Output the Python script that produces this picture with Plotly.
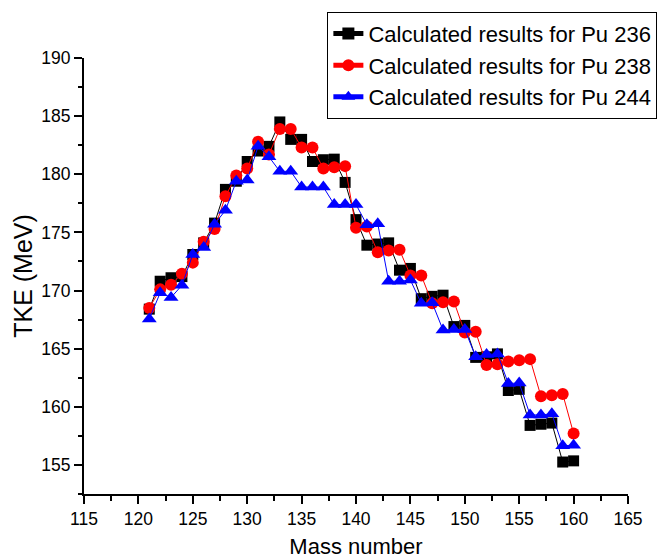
import plotly.graph_objects as go

# Mass numbers of the fission fragments
mass_number = list(range(121, 161))

# Total kinetic energy (MeV) for each plutonium isotope
tke_pu236 = [168.4, 170.8, 171.1, 171.2, 173.1, 174.1, 175.8, 178.7, 179.4, 181.1,
             182.0, 182.4, 184.5, 183.0, 183.0, 181.1, 181.25, 181.3, 179.3, 176.1,
             173.9, 174.0, 174.1, 171.75, 171.9, 169.3, 169.5, 169.6, 166.9, 167.0,
             164.25, 164.3, 164.55, 161.4, 161.5, 158.4, 158.5, 158.6, 155.25, 155.35]

tke_pu238 = [168.5, 170.1, 170.5, 171.45, 172.4, 174.2, 175.3, 178.1, 179.9, 180.5,
             182.8, 181.7, 183.9, 183.9, 182.3, 182.3, 180.5, 180.6, 180.7, 175.4,
             175.5, 173.3, 173.45, 173.5, 171.3, 171.3, 168.9, 169.0, 169.05, 166.4,
             166.45, 163.6, 163.65, 163.9, 164.0, 164.1, 160.9, 161.0, 161.1, 157.7]

tke_pu244 = [167.55, 169.8, 169.4, 170.45, 173.1, 173.7, 175.7, 176.9, 179.4, 179.5,
             182.4, 181.5, 180.25, 180.25, 178.9, 178.9, 178.9, 177.4, 177.4, 177.4,
             175.65, 175.75, 170.8, 170.8, 170.9, 168.9, 168.95, 166.6, 166.65, 166.65,
             164.3, 164.5, 164.55, 162.0, 162.05, 159.3, 159.3, 159.4, 156.65, 156.7]

series = [
    ("Calculated results for Pu 236", tke_pu236, "black", "square", 11),
    ("Calculated results for Pu 238", tke_pu238, "#ff0000", "circle", 12),
    ("Calculated results for Pu 244", tke_pu244, "#0000ff", "triangle-up", 13),
]

FONT = "Liberation Sans, Arial, sans-serif"

fig = go.Figure()
for name, values, color, symbol, size in series:
    fig.add_trace(go.Scatter(
        x=mass_number, y=values, name=name, mode="lines+markers",
        line=dict(color=color, width=1),
        marker=dict(symbol=symbol, size=size, color=color, line=dict(width=0)),
    ))

axis_common = dict(
    showline=True, linecolor="black", linewidth=2,
    ticks="outside", ticklen=8, tickwidth=1.5, tickcolor="black",
    showgrid=False, zeroline=False, mirror=False,
    tickfont=dict(family=FONT, size=17.5, color="black"),
)

fig.update_xaxes(
    range=[115, 165], tick0=115, dtick=5,
    minor=dict(ticks="outside", ticklen=4.5, tickwidth=1.5, tickcolor="black", dtick=2.5),
    title=dict(text="Mass number", font=dict(family=FONT, size=22, color="black"), standoff=17),
    **axis_common,
)
fig.update_yaxes(
    range=[152.5, 190], tick0=155, dtick=5,
    minor=dict(ticks="outside", ticklen=4.5, tickwidth=1.5, tickcolor="black", dtick=2.5, tick0=152.5),
    title=dict(text="TKE (MeV)", font=dict(family=FONT, size=25, color="black"), standoff=2),
    **axis_common,
)

fig.update_layout(
    width=659, height=559,
    margin=dict(l=84, r=31, t=58, b=65, autoexpand=False),
    plot_bgcolor="white", paper_bgcolor="white",
    font=dict(family=FONT, color="black"),
    legend=dict(
        x=1.054, xanchor="right", y=1.106, yanchor="top",
        bgcolor="white", bordercolor="black", borderwidth=1,
        font=dict(family=FONT, size=22, color="black"),
        tracegroupgap=0, itemsizing="constant",
    ),
    showlegend=True,
)

fig.write_html("out.html")
